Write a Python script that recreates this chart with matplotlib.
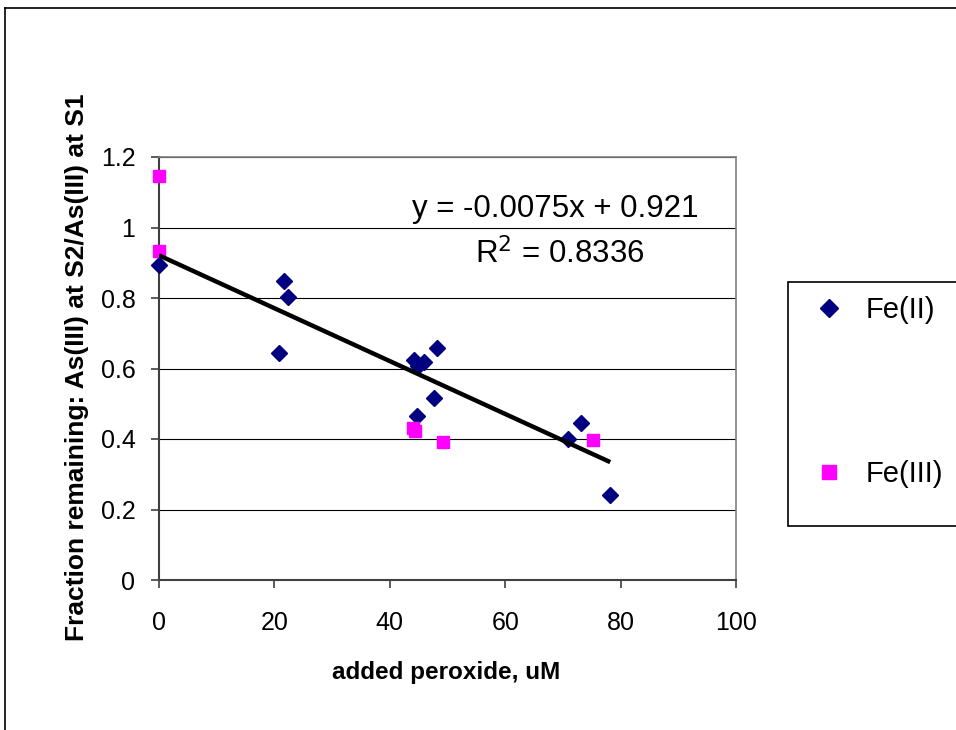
import matplotlib
matplotlib.use("Agg")
import matplotlib.pyplot as plt
from matplotlib.lines import Line2D
from matplotlib.patches import Rectangle
import numpy as np

plt.rcParams['font.family'] = ['Liberation Sans', 'DejaVu Sans']

fe2_x = [0, 21.7, 22.4, 20.8, 44.2, 44.9, 45.9, 48.2, 47.7, 44.7, 70.9, 73.1, 78.2]
fe2_y = [0.894, 0.848, 0.803, 0.644, 0.624, 0.607, 0.618, 0.658, 0.516, 0.465, 0.400, 0.445, 0.241]
fe3_x = [0, 0, 44.0, 44.4, 49.2, 75.2]
fe3_y = [1.146, 0.933, 0.431, 0.423, 0.392, 0.397]
slope, intercept = -0.0075, 0.921
r2 = 0.8336
x_ticks = [0, 20, 40, 60, 80, 100]
y_ticks = [0, 0.2, 0.4, 0.6, 0.8, 1, 1.2]
y_ticklabels = ['0', '0.2', '0.4', '0.6', '0.8', '1', '1.2']

W, H = 956, 730
fig = plt.figure(figsize=(W/100, H/100), dpi=100)
ax_l, ax_r, ax_t, ax_b = 159, 736, 157, 580
ax = fig.add_axes([ax_l/W, 1-ax_b/H, (ax_r-ax_l)/W, (ax_b-ax_t)/H])

def fx(px):
    return px / W
def fy(py):
    return 1 - py / H

# outer chart border
fig.add_artist(Line2D([fx(5), 1], [fy(8), fy(8)], transform=fig.transFigure, color='black', lw=1.2))
fig.add_artist(Line2D([fx(5), fx(5)], [0, fy(8)], transform=fig.transFigure, color='black', lw=1.2))

ax.set_xlim(0, 100)
ax.set_ylim(0, 1.2)
ax.set_xticks(x_ticks)
ax.set_yticks(y_ticks)
ax.set_yticklabels(y_ticklabels)
ax.grid(axis='y', color='black', lw=0.8)
ax.set_axisbelow(True)
for s in ['top', 'right']:
    ax.spines[s].set_color('#808080')
    ax.spines[s].set_linewidth(1.2)
for s in ['left', 'bottom']:
    ax.spines[s].set_color('#404040')
    ax.spines[s].set_linewidth(1.5)
ax.tick_params(direction='out', length=6, width=1.2, labelsize=18, color='#404040')
ax.tick_params(axis='x', pad=16)
ax.tick_params(axis='y', pad=11)

l1 = ax.plot(fe2_x, fe2_y, linestyle='none', marker='D', markersize=8.2, color='#000080',
             label='Fe(II)', clip_on=False, zorder=3)
l2 = ax.plot(fe3_x, fe3_y, linestyle='none', marker='s', markersize=9.3, color='#FF00FF',
             label='Fe(III)', clip_on=False, zorder=3)
xf = np.array([min(fe2_x + fe3_x), max(fe2_x + fe3_x)])
ax.plot(xf, slope*xf + intercept, color='black', lw=3.2, zorder=4, solid_capstyle='butt')

fig.text(fx(412), fy(217), 'y = -0.0075x + 0.921', fontsize=22.5, ha='left', va='baseline')
fig.text(fx(475), fy(263), r'R$^2$ = 0.8336', fontsize=22.5, ha='left', va='baseline')

fig.text(fx(446), fy(673), 'added peroxide, uM', fontsize=17.5, fontweight='bold', ha='center', va='center')
fig.text(fx(77), fy(367), 'Fraction remaining: As(III) at S2/As(III) at S1', fontsize=19,
         fontweight='bold', ha='center', va='center', rotation=90)

fig.add_artist(Rectangle((fx(788), fy(526)), fx(990) - fx(788), fy(282) - fy(526),
                         transform=fig.transFigure, facecolor='white', edgecolor='black', lw=1.2))
leg = fig.legend(handles=[l1[0], l2[0]], labels=['Fe(II)', 'Fe(III)'],
                 loc='upper left', bbox_to_anchor=(fx(814.4), fy(296)), bbox_transform=fig.transFigure,
                 fontsize=21, frameon=False, labelspacing=4.67, borderpad=0, borderaxespad=0,
                 handletextpad=0.77, handlelength=1.0, markerscale=1.1)

fig.savefig('out.png', dpi=100)
